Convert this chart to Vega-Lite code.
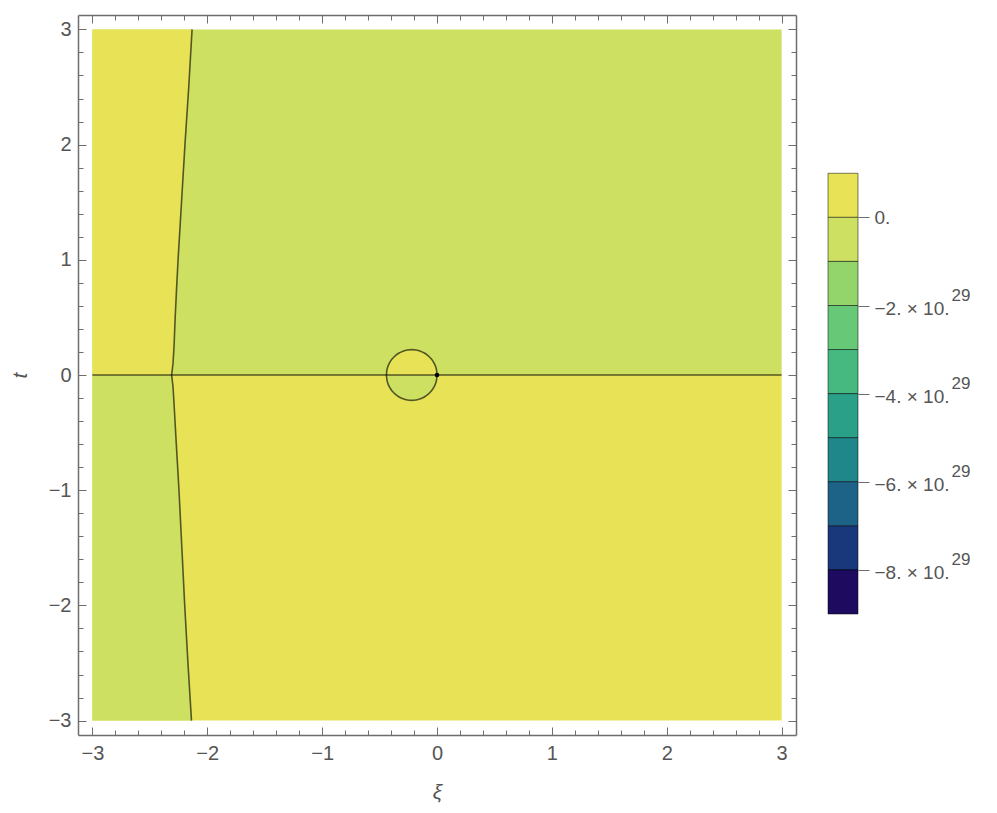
{
  "$schema": "https://vega.github.io/schema/vega-lite/v6.json",
  "padding": {"left": 9, "top": 14, "right": 5, "bottom": 5},
  "config": {
    "view": {"stroke": null},
    "axis": {
      "labelFont": "Liberation Sans", "labelFontSize": 20, "labelColor": "#555555",
      "titleFont": "Liberation Sans", "titleFontSize": 21, "titleColor": "#555555", "titleFontWeight": "normal",
      "domainColor": "#6e6e6e", "domainWidth": 1.5, "tickColor": "#6e6e6e", "tickWidth": 1, "grid": false,
      "labelOverlap": false, "labelFlush": false, "labelBound": false
    }
  },
  "datasets": {
    "quadrants": [
      {"x1": -3, "x2": 3, "y1": 0, "y2": 3, "lo": -1},
      {"x1": -3, "x2": 3, "y1": -3, "y2": 0, "lo": 0}
    ],
    "boundary": [
      {"y": -3, "x": -2.137, "lo": -1}, {"y": -2.5, "x": -2.168, "lo": -1}, {"y": -2.0, "x": -2.196, "lo": -1},
      {"y": -1.5, "x": -2.221, "lo": -1}, {"y": -1.0, "x": -2.246, "lo": -1}, {"y": -0.5, "x": -2.275, "lo": -1},
      {"y": -0.25, "x": -2.289, "lo": -1}, {"y": -0.1, "x": -2.298, "lo": -1}, {"y": 0, "x": -2.31, "lo": -1},
      {"y": 0, "x": -2.31, "lo": 0}, {"y": 0.1, "x": -2.298, "lo": 0}, {"y": 0.25, "x": -2.289, "lo": 0},
      {"y": 0.5, "x": -2.279, "lo": 0}, {"y": 0.75, "x": -2.267, "lo": 0}, {"y": 1.0, "x": -2.254, "lo": 0},
      {"y": 1.5, "x": -2.224, "lo": 0}, {"y": 2.0, "x": -2.194, "lo": 0}, {"y": 2.5, "x": -2.161, "lo": 0},
      {"y": 3.0, "x": -2.132, "lo": 0}
    ],
    "circle": [
      {"x": -0.44, "y": 0, "lo": 0}, {"x": -0.4367, "y": 0.0382, "lo": 0}, {"x": -0.4267, "y": 0.0752, "lo": 0},
      {"x": -0.4105, "y": 0.11, "lo": 0}, {"x": -0.3885, "y": 0.1414, "lo": 0}, {"x": -0.3614, "y": 0.1685, "lo": 0},
      {"x": -0.33, "y": 0.1905, "lo": 0}, {"x": -0.2952, "y": 0.2067, "lo": 0}, {"x": -0.2582, "y": 0.2167, "lo": 0},
      {"x": -0.22, "y": 0.22, "lo": 0}, {"x": -0.1818, "y": 0.2167, "lo": 0}, {"x": -0.1448, "y": 0.2067, "lo": 0},
      {"x": -0.11, "y": 0.1905, "lo": 0}, {"x": -0.0786, "y": 0.1685, "lo": 0}, {"x": -0.0515, "y": 0.1414, "lo": 0},
      {"x": -0.0295, "y": 0.11, "lo": 0}, {"x": -0.0133, "y": 0.0752, "lo": 0}, {"x": -0.0033, "y": 0.0382, "lo": 0},
      {"x": 0, "y": 0, "lo": 0},
      {"x": -0.44, "y": 0, "lo": -1}, {"x": -0.4367, "y": -0.0382, "lo": -1}, {"x": -0.4267, "y": -0.0752, "lo": -1},
      {"x": -0.4105, "y": -0.11, "lo": -1}, {"x": -0.3885, "y": -0.1414, "lo": -1}, {"x": -0.3614, "y": -0.1685, "lo": -1},
      {"x": -0.33, "y": -0.1905, "lo": -1}, {"x": -0.2952, "y": -0.2067, "lo": -1}, {"x": -0.2582, "y": -0.2167, "lo": -1},
      {"x": -0.22, "y": -0.22, "lo": -1}, {"x": -0.1818, "y": -0.2167, "lo": -1}, {"x": -0.1448, "y": -0.2067, "lo": -1},
      {"x": -0.11, "y": -0.1905, "lo": -1}, {"x": -0.0786, "y": -0.1685, "lo": -1}, {"x": -0.0515, "y": -0.1414, "lo": -1},
      {"x": -0.0295, "y": -0.11, "lo": -1}, {"x": -0.0133, "y": -0.0752, "lo": -1}, {"x": -0.0033, "y": -0.0382, "lo": -1},
      {"x": 0, "y": 0, "lo": -1}
    ],
    "zeroline": [{"x1": -3, "x2": 3, "y": 0}],
    "critical": [{"x": 0, "y": 0}],
    "legend": [
      {"hi": 1, "lo": 0}, {"hi": 0, "lo": -1}, {"hi": -1, "lo": -2}, {"hi": -2, "lo": -3}, {"hi": -3, "lo": -4},
      {"hi": -4, "lo": -5}, {"hi": -5, "lo": -6}, {"hi": -6, "lo": -7}, {"hi": -7, "lo": -8}, {"hi": -8, "lo": -9}
    ]
  },
  "spacing": 32,
  "bounds": "flush",
  "hconcat": [
    {
      "width": 718,
      "height": 720,
      "resolve": {"axis": {"x": "independent", "y": "independent"}},
      "layer": [
        {
          "data": {"name": "quadrants"},
          "mark": {"type": "rect"},
          "encoding": {
            "x": {"field": "x1", "type": "quantitative", "scale": {"domain": [-3.125, 3.125], "nice": false, "zero": false},
              "axis": {"orient": "bottom", "title": "ξ", "titleFontStyle": "italic", "titlePadding": 15,
                "values": [-3,-2.8,-2.6,-2.4,-2.2,-2,-1.8,-1.6,-1.4,-1.2,-1,-0.8,-0.6,-0.4,-0.2,0,0.2,0.4,0.6,0.8,1,1.2,1.4,1.6,1.8,2,2.2,2.4,2.6,2.8,3],
                "labelExpr": "abs(datum.value - round(datum.value)) < 0.001 ? format(datum.value, 'd') : ''",
                "tickSize": {"condition": {"test": "abs(datum.value - round(datum.value)) < 0.001", "value": -8}, "value": -5},
                "labelPadding": 16}},
            "x2": {"field": "x2"},
            "y": {"field": "y1", "type": "quantitative", "scale": {"domain": [-3.125, 3.125], "nice": false, "zero": false},
              "axis": {"orient": "left", "title": "t", "titleFontStyle": "italic", "titlePadding": 18,
                "values": [-3,-2.8,-2.6,-2.4,-2.2,-2,-1.8,-1.6,-1.4,-1.2,-1,-0.8,-0.6,-0.4,-0.2,0,0.2,0.4,0.6,0.8,1,1.2,1.4,1.6,1.8,2,2.2,2.4,2.6,2.8,3],
                "labelExpr": "abs(datum.value - round(datum.value)) < 0.001 ? format(datum.value, 'd') : ''",
                "tickSize": {"condition": {"test": "abs(datum.value - round(datum.value)) < 0.001", "value": -8}, "value": -5},
                "labelPadding": 15}},
            "y2": {"field": "y2"},
            "color": {"field": "lo", "type": "ordinal",
              "scale": {"domain": [0,-1,-2,-3,-4,-5,-6,-7,-8,-9], "range": ["#E8E356","#CDE062","#93D56B","#67C978","#45B97F","#29A087","#1F868A","#1D6287","#19377B","#1E0A5E"]},
              "legend": null}
          }
        },
        {
          "data": {"name": "boundary"},
          "mark": {"type": "area", "orient": "horizontal"},
          "encoding": {
            "y": {"field": "y", "type": "quantitative", "scale": {"domain": [-3.125, 3.125], "nice": false, "zero": false}, "axis": null},
            "x": {"field": "x", "type": "quantitative", "scale": {"domain": [-3.125, 3.125], "nice": false, "zero": false}, "axis": null, "stack": null},
            "x2": {"datum": -3},
            "color": {"field": "lo", "type": "ordinal", "legend": null}
          }
        },
        {
          "data": {"name": "circle"},
          "transform": [{"filter": "datum.lo === 0"}],
          "mark": {"type": "area", "interpolate": "monotone"},
          "encoding": {
            "x": {"field": "x", "type": "quantitative", "scale": {"domain": [-3.125, 3.125], "nice": false, "zero": false}, "axis": null},
            "y": {"field": "y", "type": "quantitative", "scale": {"domain": [-3.125, 3.125], "nice": false, "zero": false}, "axis": null, "stack": null},
            "y2": {"datum": 0},
            "color": {"field": "lo", "type": "ordinal", "legend": null}
          }
        },
        {
          "data": {"name": "circle"},
          "transform": [{"filter": "datum.lo === -1"}],
          "mark": {"type": "area", "interpolate": "monotone"},
          "encoding": {
            "x": {"field": "x", "type": "quantitative", "scale": {"domain": [-3.125, 3.125], "nice": false, "zero": false}, "axis": null},
            "y": {"field": "y", "type": "quantitative", "scale": {"domain": [-3.125, 3.125], "nice": false, "zero": false}, "axis": null, "stack": null},
            "y2": {"datum": 0},
            "color": {"field": "lo", "type": "ordinal", "legend": null}
          }
        },
        {
          "data": {"name": "zeroline"},
          "mark": {"type": "rule", "color": "#000000", "opacity": 0.62, "strokeWidth": 1.6},
          "encoding": {
            "x": {"field": "x1", "type": "quantitative", "scale": {"domain": [-3.125, 3.125], "nice": false, "zero": false}, "axis": null},
            "x2": {"field": "x2"},
            "y": {"field": "y", "type": "quantitative", "scale": {"domain": [-3.125, 3.125], "nice": false, "zero": false}, "axis": null}
          }
        },
        {
          "data": {"name": "circle"},
          "mark": {"type": "line", "interpolate": "monotone", "color": "#000000", "opacity": 0.62, "strokeWidth": 1.6},
          "encoding": {
            "x": {"field": "x", "type": "quantitative", "scale": {"domain": [-3.125, 3.125], "nice": false, "zero": false}, "axis": null},
            "y": {"field": "y", "type": "quantitative", "scale": {"domain": [-3.125, 3.125], "nice": false, "zero": false}, "axis": null},
            "detail": {"field": "lo"}
          }
        },
        {
          "data": {"name": "boundary"},
          "mark": {"type": "line", "color": "#000000", "opacity": 0.62, "strokeWidth": 1.6},
          "encoding": {
            "x": {"field": "x", "type": "quantitative", "scale": {"domain": [-3.125, 3.125], "nice": false, "zero": false},
              "axis": {"orient": "top", "title": null, "labels": false,
                "values": [-3,-2.8,-2.6,-2.4,-2.2,-2,-1.8,-1.6,-1.4,-1.2,-1,-0.8,-0.6,-0.4,-0.2,0,0.2,0.4,0.6,0.8,1,1.2,1.4,1.6,1.8,2,2.2,2.4,2.6,2.8,3],
                "tickSize": {"condition": {"test": "abs(datum.value - round(datum.value)) < 0.001", "value": -8}, "value": -5}}},
            "y": {"field": "y", "type": "quantitative", "scale": {"domain": [-3.125, 3.125], "nice": false, "zero": false},
              "axis": {"orient": "right", "title": null, "labels": false,
                "values": [-3,-2.8,-2.6,-2.4,-2.2,-2,-1.8,-1.6,-1.4,-1.2,-1,-0.8,-0.6,-0.4,-0.2,0,0.2,0.4,0.6,0.8,1,1.2,1.4,1.6,1.8,2,2.2,2.4,2.6,2.8,3],
                "tickSize": {"condition": {"test": "abs(datum.value - round(datum.value)) < 0.001", "value": -8}, "value": -5}}},
            "order": {"field": "y"}
          }
        },
        {
          "data": {"name": "critical"},
          "mark": {"type": "point", "filled": true, "color": "#000000", "opacity": 1, "size": 22},
          "encoding": {
            "x": {"field": "x", "type": "quantitative", "scale": {"domain": [-3.125, 3.125], "nice": false, "zero": false}, "axis": null},
            "y": {"field": "y", "type": "quantitative", "scale": {"domain": [-3.125, 3.125], "nice": false, "zero": false}, "axis": null}
          }
        }
      ]
    },
    {
      "width": 30,
      "height": 720,
      "data": {"name": "legend"},
      "resolve": {"axis": {"y": "independent"}},
      "layer": [
        {
          "mark": {"type": "rect", "stroke": "#000000", "strokeOpacity": 0.5, "strokeWidth": 1},
          "encoding": {
            "x": {"datum": 0, "type": "quantitative", "scale": {"domain": [0, 1], "nice": false, "zero": false}, "axis": null},
            "x2": {"datum": 1},
            "y": {"field": "hi", "type": "quantitative", "scale": {"domain": [-11.746, 4.592], "nice": false, "zero": false},
              "axis": {"orient": "right", "title": null, "domain": false, "values": [0, -2, -4, -6, -8], "tickSize": 11,
                "labelPadding": 5, "labelFontSize": 19,
                "labelOffset": {"condition": {"test": "datum.value === 0", "value": 0}, "value": 3},
                "labelExpr": "datum.value === 0 ? '0.' : '−' + abs(datum.value) + '. × 10.'"}},
            "y2": {"field": "lo"},
            "color": {"field": "lo", "type": "ordinal", "legend": null}
          }
        },
        {
          "mark": {"type": "rect", "opacity": 0},
          "encoding": {
            "x": {"datum": 0, "type": "quantitative", "scale": {"domain": [0, 1], "nice": false, "zero": false}, "axis": null},
            "x2": {"datum": 1},
            "y": {"field": "hi", "type": "quantitative", "scale": {"domain": [-11.746, 4.592], "nice": false, "zero": false},
              "axis": {"orient": "right", "title": null, "domain": false, "ticks": false, "tickSize": 0, "values": [-2, -4, -6, -8],
                "labelPadding": 93, "labelFontSize": 17, "labelOffset": -10, "labelExpr": "'29'"}},
            "y2": {"field": "lo"}
          }
        }
      ]
    }
  ]
}
